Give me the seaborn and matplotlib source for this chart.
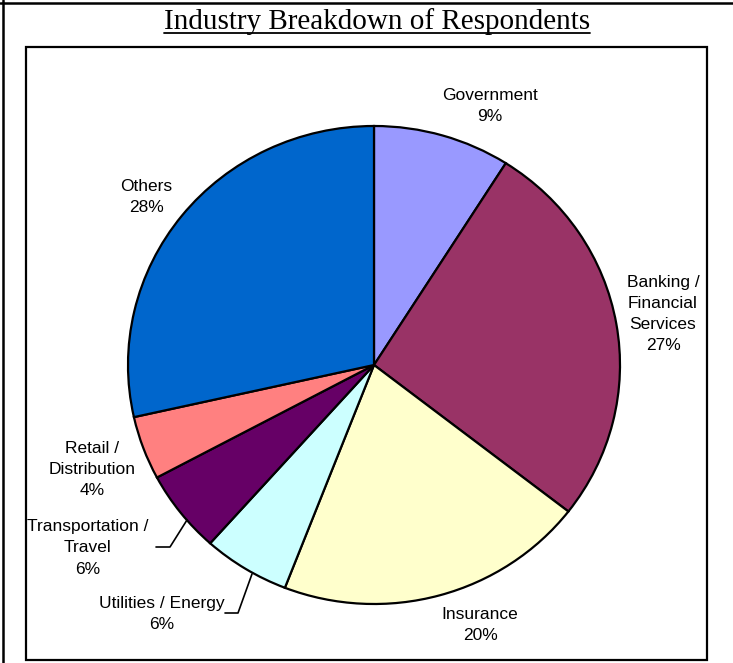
import seaborn as sns
import matplotlib.pyplot as plt
from matplotlib.patches import Rectangle
from matplotlib.lines import Line2D

# datos del grafico
industries = ["Government", "Banking /\nFinancial\nServices", "Insurance",
              "Utilities / Energy", "Transportation /\nTravel",
              "Retail /\nDistribution", "Others"]
shares = [9.0, 26.5, 20.4, 5.7, 5.6, 4.3, 28.5]
pct_labels = ["9%", "27%", "20%", "6%", "6%", "4%", "28%"]
colors = ["#9999FF", "#993366", "#FFFFCC", "#CCFFFF", "#660066", "#FF8080", "#0066CC"]

sns.set_theme(style="white")
plt.rcParams['font.family'] = ['Liberation Sans', 'DejaVu Sans']
plt.rcParams['text.color'] = 'black'

W, H = 733, 663
cx, cy = 374, 365      # centro del pastel en pixeles
Rx, Ry = 246, 239      # el pastel de Excel sale un poco achatado

fig = plt.figure(figsize=(W / 100, H / 100), dpi=100)
ax = fig.add_axes([0, 0, 1, 1])
ax.pie(shares, colors=colors, startangle=90, counterclock=False, radius=1,
       wedgeprops=dict(edgecolor="black", linewidth=1.6))
ax.set_xlim(-cx / Rx, (W - cx) / Rx)
ax.set_ylim(-(H - cy) / Ry, cy / Ry)
ax.set_aspect('auto')
ax.axis('off')


def px(x, y):
    # pixeles de la imagen -> coordenadas del pastel
    return (x - cx) / Rx, (cy - y) / Ry


# posiciones de las etiquetas (pixeles)
label_pos = [(490, 106), (663, 314), (480, 625), (162, 614),
             (88, 548), (92, 470), (146, 197)]
for name, pct, (lx, ly) in zip(industries, pct_labels, label_pos):
    ax.text(*px(lx, ly), name + "\n" + pct, ha='center', va='center',
            fontsize=12.5, linespacing=1.5, color='black')

# lineas guia
leaders = [[(225, 613), (238, 613), (252, 574)],
           [(156, 547), (170, 547), (187, 520)]]
for pts in leaders:
    xy = [px(x, y) for x, y in pts]
    ax.plot([p[0] for p in xy], [p[1] for p in xy], color='black', lw=1.2)

# marcos
fig.add_artist(Line2D([2.5 / W, 2.5 / W], [0, 1], color='black', lw=1.8,
                      transform=fig.transFigure))
fig.add_artist(Line2D([0, 1], [1 - 3 / H, 1 - 3 / H], color='black', lw=1.8,
                      transform=fig.transFigure))
fig.add_artist(Rectangle((26 / W, (H - 660) / H), (707 - 26) / W, (660 - 47) / H,
                         fill=False, edgecolor='black', lw=1.6,
                         transform=fig.transFigure))

# titulo subrayado
title = fig.text(377 / W, 1 - 22 / H, "Industry Breakdown of Respondents",
                 ha='center', va='center', fontsize=21, color='black',
                 family=['Liberation Serif', 'DejaVu Serif'])
fig.canvas.draw()
bb = title.get_window_extent()
uy = (bb.y0 + 2) / H
fig.add_artist(Line2D([bb.x0 / W, bb.x1 / W], [uy, uy], color='black', lw=1.3,
                      transform=fig.transFigure))

fig.savefig("out.png", dpi=100)
